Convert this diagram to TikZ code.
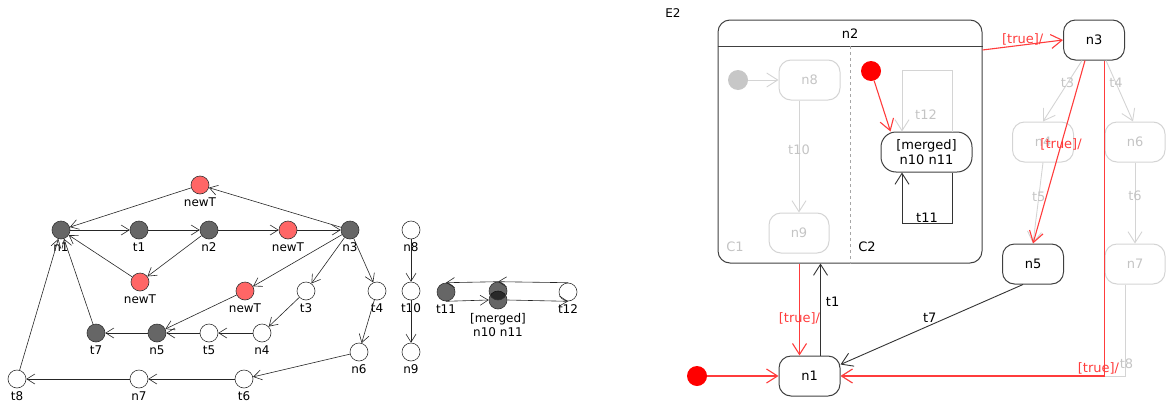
\documentclass[tikz,border=0pt]{standalone}
\usepackage{fontspec}
\setmainfont{DejaVu Sans}
\usetikzlibrary{positioning,arrows.meta}

\definecolor{tokengray}{HTML}{666666}
\definecolor{newred}{HTML}{FF6666}
\definecolor{faded}{HTML}{D4D4D4}
\definecolor{fadedtext}{HTML}{C4C4C4}
\definecolor{guard}{HTML}{FF3C3C}

\begin{document}
\begin{tikzpicture}[
  x=1pt, y=-1pt,
  every node/.style={font=\fontsize{12}{14}\selectfont},
  % token graph
  pnode/.style={circle, draw=black!80, line width=0.6pt, minimum size=18pt, inner sep=0pt},
  pdark/.style={pnode, fill=tokengray},
  pred/.style={pnode, fill=newred},
  pwhite/.style={pnode, fill=white},
  lbl/.style={label distance=1.5pt, inner sep=2pt},
  net/.style={draw=black!85, line width=0.6pt, -{Straight Barb[length=8pt,width=10pt]}},
  % statechart
  state/.style={draw=black!75, line width=1pt, rounded corners=12pt,
    minimum width=61pt, minimum height=40pt, inner sep=2pt, font=\fontsize{13}{15}\selectfont},
  ghost/.style={state, draw=faded, text=fadedtext},
  start/.style={circle, fill=red, minimum size=20pt, inner sep=0pt},
  flow/.style={draw=black!80, line width=0.9pt, -{Straight Barb[length=11pt,width=14pt]}},
  redflow/.style={flow, draw=guard, line width=1.1pt},
  ghostflow/.style={flow, draw=faded},
  tlabel/.style={font=\fontsize{13}{15}\selectfont, inner sep=1pt},
  glabel/.style={tlabel, text=guard},
  hlabel/.style={tlabel, text=fadedtext}
]
\useasboundingbox (0,0) rectangle (1166,407);

% ---- token graph
\node[pred]   (nwa) at (200,185) [label={[lbl]below:newT}] {};
\node[pdark]  (n1)  at (61,230)  [label={[lbl]below:n1}] {};
\node[pdark]  (t1)  at (139,230) [label={[lbl]below:t1}] {};
\node[pdark]  (n2)  at (209,230) [label={[lbl]below:n2}] {};
\node[pred]   (nwb) at (288,230) [label={[lbl]below:newT}] {};
\node[pdark]  (n3)  at (350,230) [label={[lbl]below:n3}] {};
\node[pred]   (nwc) at (140,282) [label={[lbl]below:newT}] {};
\node[pred]   (nwd) at (245,291) [label={[lbl]below:newT}] {};
\node[pwhite] (t3)  at (306,291) [label={[lbl]below:t3}] {};
\node[pwhite] (t4)  at (377,291) [label={[lbl]below:t4}] {};
\node[pdark]  (t7)  at (96,333)  [label={[lbl]below:t7}] {};
\node[pdark]  (n5)  at (157,333) [label={[lbl]below:n5}] {};
\node[pwhite] (t5)  at (209,333) [label={[lbl]below:t5}] {};
\node[pwhite] (n4)  at (262,333) [label={[lbl]below:n4}] {};
\node[pwhite] (n6)  at (359,352) [label={[lbl]below:n6}] {};
\node[pwhite] (t8)  at (17,379)  [label={[lbl]below:t8}] {};
\node[pwhite] (n7)  at (139,379) [label={[lbl]below:n7}] {};
\node[pwhite] (t6)  at (244,379) [label={[lbl]below:t6}] {};
\node[pwhite] (n8)  at (411,230) [label={[lbl]below:n8}] {};
\node[pwhite] (t10) at (411,291) [label={[lbl]below:t10}] {};
\node[pwhite] (n9)  at (411,352) [label={[lbl]below:n9}] {};
\node[pdark]  (t11) at (446,292) [label={[lbl]below:t11}] {};
\node[pwhite] (t12) at (568,292) [label={[lbl]below:t12}] {};
\node[pnode, fill=black, fill opacity=0.6, text opacity=1] (mlo) at (498,300)
  [label={[lbl, align=center]below:[merged]\\n10 n11}] {};
\node[pnode, fill=black, fill opacity=0.6] (mup) at (498,291) {};

\draw[net] (nwa) -- (n1);
\draw[net] (n3) -- (nwa);
\draw[net] (n1) -- (t1);
\draw[net] (t1) -- (n2);
\draw[net] (n2) -- (nwb);
\draw[net] (nwb) -- (n3);
\draw[net] (n2) -- (nwc);
\draw[net] (nwc) -- (n1);
\draw[net] (n3) -- (nwd);
\draw[net] (nwd) -- (n5);
\draw[net] (n3) -- (t3);
\draw[net] (t3) -- (n4);
\draw[net] (n4) -- (t5);
\draw[net] (t5) -- (n5);
\draw[net] (n5) -- (t7);
\draw[net] (t7) -- (n1);
\draw[net] (n3) -- (t4);
\draw[net] (t4) -- (n6);
\draw[net] (n6) -- (t6);
\draw[net] (t6) -- (n7);
\draw[net] (n7) -- (t8);
\draw[net] (t8) -- (n1);
\draw[net] (n8) -- (t10);
\draw[net] (t10) -- (n9);
\draw[net] (t11.south) -- (mlo.west);
\draw[net] (mlo.east) -- (t12.south);
\draw[net] (t12.north) -- (mup.north);
\draw[net] (mup.north) -- (t11.north);

% ---- statechart E2
\node (e2) at (673,13) {E2};
\node[state, minimum width=264pt, minimum height=243pt] (s2) at (850,141.5) {};
\coordinate (hdr) at (0,46);
\draw[black!75, line width=1pt] (s2.west |- hdr) -- (s2.east |- hdr);
\node[tlabel] (s2name) at (850,34) {n2};
\draw[black!35, dashed] (s2.north |- hdr) -- (s2.south);
\node[tlabel, text=fadedtext] (c1) at (735,247) {C1};
\node[tlabel] (c2) at (867,247) {C2};

% region C1
\node[start, fill=black!22] (i1) at (738,80) {};
\node[ghost] (s8) at (809.5,80) {n8};
\node[ghost, minimum width=60pt] (s9) at (799,233) {n9};
\draw[ghostflow] (i1) -- (s8);
\draw[ghostflow] (s8.south -| s9.north) -- (s9.north)
  node[hlabel, pos=0.44] {t10};

% region C2
\node[start] (i2) at (871,71) {};
\node[state, minimum width=91pt, rounded corners=15pt, align=center] (sm) at (926.5,152)
  {[merged]\\n10 n11};
\draw[redflow] (i2) -- ([xshift=10pt]sm.north west);
\draw[ghostflow] ([xshift=25.5pt]sm.north) -- ++(0,-61) -| ([xshift=-24.5pt]sm.north);
\node[hlabel] (l12) at (926,115) {t12};
\draw[flow] ([xshift=25.5pt]sm.south) -- ++(0,51) -| ([xshift=-24.5pt]sm.south)
  node[tlabel, pos=0.25, above] {t11};

% outer states
\node[state] (s3) at (1094,40) {n3};
\node[ghost] (s4) at (1043,142) {n4};
\node[ghost, minimum width=60pt] (s6) at (1135,142) {n6};
\node[state] (s5) at (1033,264) {n5};
\node[ghost, minimum width=60pt] (s7) at (1135,264) {n7};
\node[state] (s1) at (809.5,376) {n1};
\node[start] (i0) at (697,376) {};

\coordinate (ct8) at (1125.5,0);
\coordinate (cdn) at (1104.5,0);
\coordinate (cin) at (799.5,0);
\coordinate (cout) at (820.5,0);
\coordinate (cex) at (0,50);

\draw[ghostflow] ([xshift=-12pt]s3.south) -- (s4.north)
  node[hlabel, pos=0.37] {t3};
\draw[ghostflow] ([xshift=12pt]s3.south) -- ([xshift=-2pt]s6.north)
  node[hlabel, pos=0.37] {t4};
\draw[ghostflow] (s4.south) -- (s5.north)
  node[hlabel, pos=0.42] {t5};
\draw[ghostflow] (s6.south) -- (s7.north)
  node[hlabel, pos=0.41] {t6};
\draw[ghostflow] (s7.south -| ct8) |- (s1.east)
  node[hlabel, pos=0.47, above, xshift=1pt] {t8};

\draw[redflow] (s2.east |- cex) -- (s3.west)
  node[glabel, midway, above, yshift=-2pt] {[true]/};
\draw[redflow] ([xshift=-9pt]s3.south) -- (s5.north)
  node[glabel, pos=0.46] {[true]/};
\draw[redflow] (s3.south -| cdn) |- (s1.east)
  node[glabel, pos=0.5, above, xshift=-6pt] {[true]/};
\draw[flow] ([xshift=-10pt]s5.south) -- ([yshift=-9pt]s1.north east)
  node[tlabel, midway, above, xshift=-2pt, yshift=1pt] {t7};
\draw[redflow] (s2.south -| cin) -- (s1.north -| cin)
  node[glabel, pos=0.6] {[true]/};
\draw[flow] (s1.north -| cout) -- (s2.south -| cout)
  node[tlabel, pos=0.58, right, xshift=4pt] {t1};
\draw[redflow] (i0) -- (s1.west);
\end{tikzpicture}
\end{document}
